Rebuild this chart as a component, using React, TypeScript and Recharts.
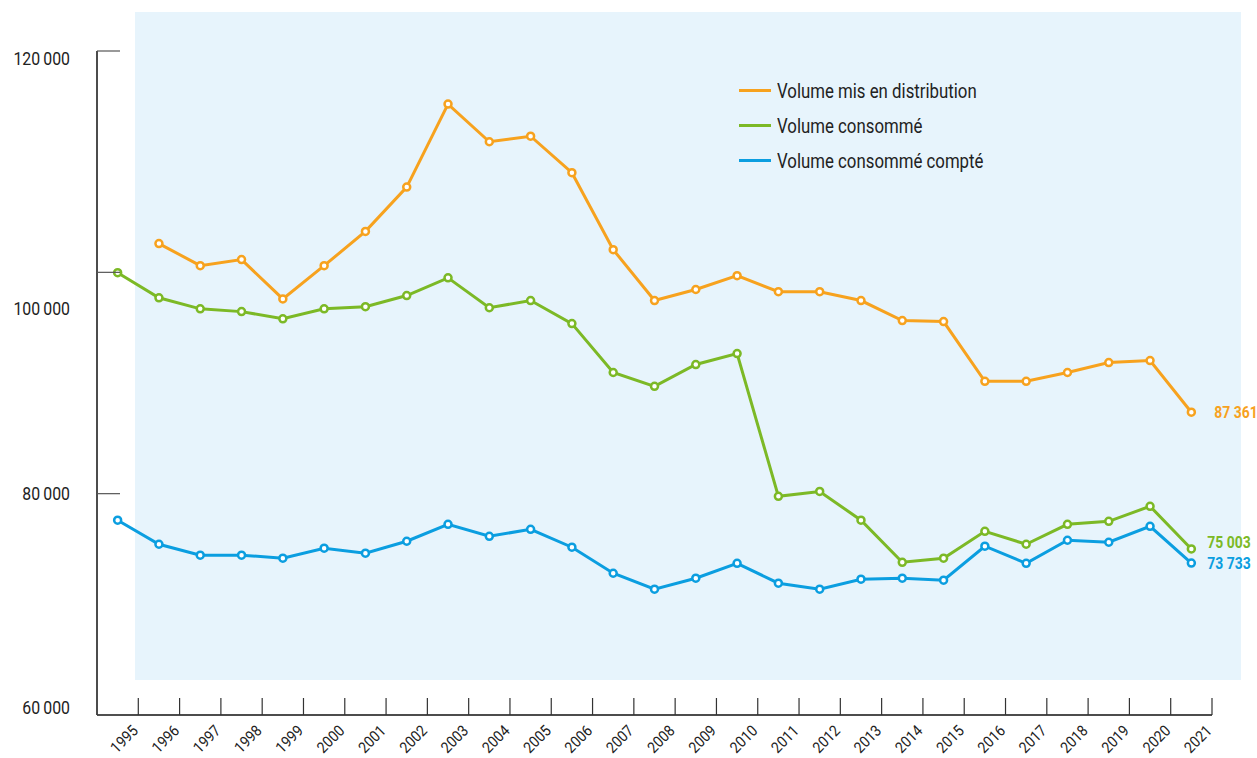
import { LineChart, Line, XAxis, YAxis, LabelList } from 'recharts';

const years = [
  '1995', '1996', '1997', '1998', '1999', '2000', '2001', '2002', '2003', '2004',
  '2005', '2006', '2007', '2008', '2009', '2010', '2011', '2012', '2013', '2014',
  '2015', '2016', '2017', '2018', '2019', '2020', '2021',
];

const distribue = [
  null, 102600, 100600, 101150, 97600, 100600, 103700, 107700, 115200, 111800,
  112300, 109000, 102050, 97450, 98450, 99700, 98250, 98250, 97450, 95640,
  95550, 90150, 90150, 90950, 91850, 92030, 87361,
];

const consomme = [
  99970, 97700, 96700, 96450, 95800, 96700, 96900, 97900, 99500, 96800,
  97450, 95370, 90950, 89700, 91670, 92660, 79760, 80200, 77600, 73800,
  74170, 76600, 75430, 77230, 77500, 78860, 75003,
];

const compte = [
  77600, 75430, 74440, 74440, 74170, 75070, 74620, 75700, 77230, 76150,
  76780, 75160, 72810, 71370, 72360, 73710, 71910, 71370, 72270, 72360,
  72180, 75250, 73710, 75790, 75610, 77050, 73733,
];

const yTicks = [60000, 80000, 100000, 120000];

const series = [
  { key: 'distribue', name: 'Volume mis en distribution', color: '#f7a21e' },
  { key: 'consomme', name: 'Volume consommé', color: '#7cb926' },
  { key: 'compte', name: 'Volume consommé compté', color: '#0b9ee0' },
];

const data = years.map((y, i) => ({
  year: y,
  distribue: distribue[i],
  consomme: consomme[i],
  compte: compte[i],
}));

const FONT = 'Roboto, sans-serif';

const BAND = 1115 / years.length;

// fake a condensed face: squeeze the text horizontally
const Squeezed = ({ x, y, rot = 0, sx, children, ...rest }: any) => (
  <g transform={`translate(${x},${y}) rotate(${rot}) scale(${sx},1)`}>
    <text x={0} y={0} fontFamily={FONT} {...rest}>{children}</text>
  </g>
);

// odd label placement copied from the original
const yLabelShift: Record<number, number> = { 60000: -7, 80000: 0, 100000: 36, 120000: 8 };

const YTick = ({ y, payload }: any) => (
  <g>
    <line x1={97} x2={120} y1={y} y2={y} stroke="#555" strokeWidth={1.2} />
    <Squeezed x={70} y={y + (yLabelShift[payload.value] || 0)} sx={0.88} textAnchor="end"
      dominantBaseline="central" fontSize={18} fill="#222">
      {payload.value.toLocaleString('fr-FR').replace(/\s/g, '\u2009')}
    </Squeezed>
  </g>
);

const XTick = ({ x, payload }: any) => {
  const bx = x + BAND / 2;
  return (
    <g>
      <line x1={bx} x2={bx} y1={715} y2={698} stroke="#333" strokeWidth={1.2} />
      <Squeezed x={bx - 3} y={728} rot={-45} sx={0.9} textAnchor="end" dominantBaseline="central"
        fontSize={15.5} fill="#222">
        {payload.value}
      </Squeezed>
    </g>
  );
};

const endLabel = (color: string, dx: number, dy: number) => (props: any) => {
  const { x, y, index, value } = props;
  if (index !== years.length - 1) return null;
  return (
    <Squeezed x={x + dx} y={y + dy} sx={0.82} dominantBaseline="central" fontSize={17}
      fontWeight={700} fill={color}>
      {Number(value).toLocaleString('fr-FR').replace(/\s/g, ' ')}
    </Squeezed>
  );
};

const labelOffsets: Record<string, [number, number]> = {
  distribue: [23, 0],
  consomme: [16, -6],
  compte: [16, 1],
};

export default function App() {
  return (
    <div style={{ position: 'relative', width: 1257, height: 758 }}>
      <style>{'body{margin:0}'}</style>
      <div style={{ position: 'absolute', left: 135, top: 12, width: 1106, height: 668, background: '#e7f4fc' }} />
      <div style={{ position: 'absolute', left: 0, top: 0 }}>
        <LineChart width={1257} height={758} data={data} margin={{ top: 51, right: 45, bottom: 0, left: 0 }}>
          <XAxis
            dataKey="year"
            height={43}
            padding={{ left: BAND / 2, right: BAND / 2 }}
            axisLine={{ stroke: '#111', strokeWidth: 1.5 }}
            tickLine={false}
            tick={<XTick />}
            interval={0}
          />
          <YAxis
            width={97}
            domain={[60000, 120000]}
            ticks={yTicks}
            axisLine={{ stroke: '#111', strokeWidth: 1.5 }}
            tickLine={false}
            tick={<YTick />}
            interval={0}
          />
          {series.map((s) => (
            <Line
              key={s.key}
              dataKey={s.key}
              name={s.name}
              stroke={s.color}
              strokeWidth={3}
              dot={{ r: 3.5, fill: '#fff', stroke: s.color, strokeWidth: 2.5 }}
              activeDot={false}
              isAnimationActive={false}
            >
              <LabelList dataKey={s.key} content={endLabel(s.color, labelOffsets[s.key][0], labelOffsets[s.key][1])} />
            </Line>
          ))}
        </LineChart>
      </div>
      <div style={{ position: 'absolute', left: 739, top: 73, fontFamily: FONT }}>
        {series.map((s) => (
          <div key={s.key} style={{ display: 'flex', alignItems: 'center', height: 35, whiteSpace: 'nowrap' }}>
            <div style={{ width: 32, height: 3, background: s.color, marginRight: 6, flex: 'none' }} />
            <span style={{ fontSize: 21, color: '#222', display: 'inline-block', transform: 'scaleX(0.8)', transformOrigin: 'left center' }}>
              {s.name}
            </span>
          </div>
        ))}
      </div>
    </div>
  );
}
